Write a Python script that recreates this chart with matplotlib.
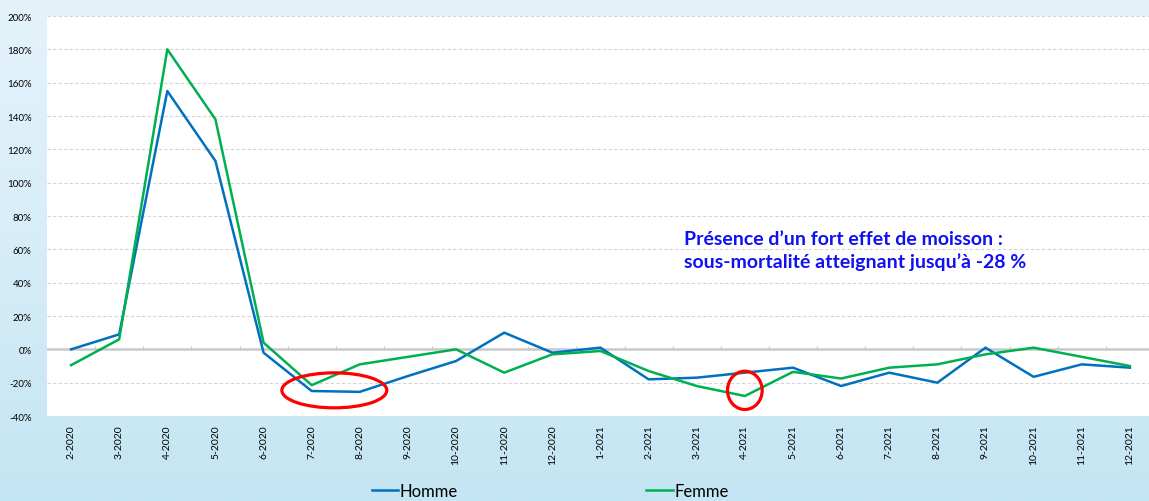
import numpy as np
import matplotlib
matplotlib.use("Agg")
import matplotlib.pyplot as plt
from matplotlib.patches import Ellipse
from matplotlib.lines import Line2D

plt.rcParams["font.family"] = ["Lato", "DejaVu Sans"]

months = ["2-2020", "3-2020", "4-2020", "5-2020", "6-2020", "7-2020", "8-2020",
          "9-2020", "10-2020", "11-2020", "12-2020", "1-2021", "2-2021", "3-2021",
          "4-2021", "5-2021", "6-2021", "7-2021", "8-2021", "9-2021", "10-2021",
          "11-2021", "12-2021"]
# excess mortality, %
homme = [0, 9, 155, 113, -2, -25, -25.5, -16, -7, 10, -2, 1, -18, -17,
         -14, -11, -22, -14, -20, 1, -16.5, -9, -11]
femme = [-9.5, 6, 180, 138, 4, -21.5, -9, -4.5, 0, -14, -3, -1, -13, -22,
         -28, -13.5, -17.5, -11, -9, -3, 1, -4.5, -10]
yticks = list(range(-40, 201, 20))

BLUE = "#0070C0"
GREEN = "#00B050"

fig = plt.figure(figsize=(11.49, 5.02), dpi=100)

# light blue backdrop
bg = fig.add_axes([0, 0, 1, 1], zorder=-10)
grad = np.linspace(0, 1, 256).reshape(-1, 1)
bg.imshow(grad, aspect="auto", extent=[0, 1, 0, 1], origin="upper",
          cmap=matplotlib.colors.LinearSegmentedColormap.from_list(
              "sea", ["#e4f3fa", "#d6edf8", "#c4e5f3"]))
bg.axis("off")

ax = fig.add_axes([0.0409, 0.1693, 0.9634, 0.7968])
ax.set_facecolor("white")
x = np.arange(len(months))
ax.plot(x, homme, color=BLUE, lw=1.8, label="Homme", zorder=3)
ax.plot(x, femme, color=GREEN, lw=1.8, label="Femme", zorder=3)

ax.set_xlim(-0.5, len(months) - 0.5)
ax.set_ylim(-40, 200)
ax.set_yticks(yticks)
ax.set_yticklabels([f"{v}%" for v in yticks], fontsize=7)
ax.set_xticks(x)
ax.set_xticklabels(months, rotation=90, fontsize=7.5)
ax.tick_params(axis="x", length=0, pad=6)
ax.tick_params(axis="y", length=0, pad=11)
for s in ax.spines.values():
    s.set_visible(False)
for v in yticks:
    if v != 0:
        ax.axhline(v, color="#d4d4d4", lw=0.8, ls=(0, (3, 2)), zorder=1)
ax.axhline(0, color="#c8c8c8", lw=1.8, zorder=2)
ax.vlines(np.arange(len(months)) + 0.5, 0, 2.2, color="#c8c8c8", lw=0.8, zorder=2)

# harvesting effect highlights
ax.add_patch(Ellipse((5.47, -24.6), 2.18, 21, fill=False, ec="red", lw=2.3, zorder=4))
ax.add_patch(Ellipse((14.0, -24.6), 0.72, 23, fill=False, ec="red", lw=2.3, zorder=4))

ax.text(12.74, 59.5, "Présence d’un fort effet de moisson :\nsous-mortalité atteignant jusqu’à -28 %",
        color="#1010F0", fontsize=14, fontweight="bold", ha="left", va="center",
        linespacing=1.35, zorder=5)

handles = [Line2D([], [], color=BLUE, lw=1.8), Line2D([], [], color=GREEN, lw=1.8)]
fig.legend(handles, ["Homme", "Femme"], loc="center", bbox_to_anchor=(0.479, 0.02),
           ncol=2, frameon=False, fontsize=12, handlelength=1.6, handletextpad=0.1,
           columnspacing=11.3)

fig.savefig("out.png", dpi=100)
